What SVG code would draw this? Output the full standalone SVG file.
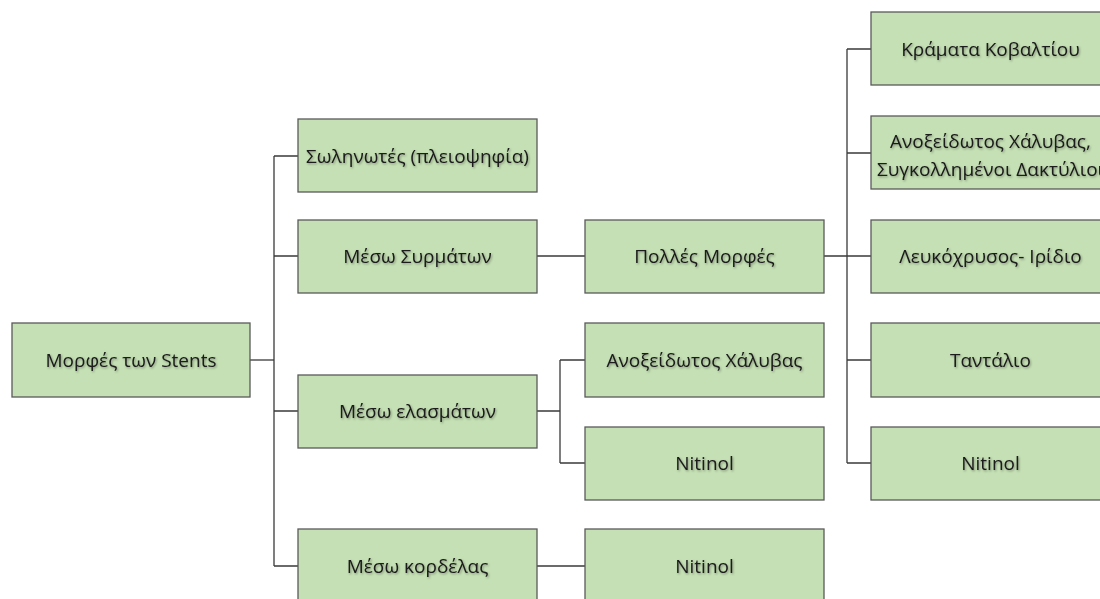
<svg xmlns="http://www.w3.org/2000/svg" width="1100" height="599" viewBox="0 0 1100 599">
  <defs>
    <filter id="tshadow" x="-10%" y="-30%" width="120%" height="160%">
      <feDropShadow dx="1" dy="1.2" stdDeviation="0.9" flood-color="#000000" flood-opacity="0.35"/>
    </filter>
    <style>
      .box { fill: #c5e0b4; stroke: #5a5a5a; stroke-width: 1.3; }
      .lbl { font-family: "Open Sans", "Noto Sans", "DejaVu Sans", sans-serif; font-size: 19px; fill: #1a1a1a; text-anchor: middle; filter: url(#tshadow); }
      .con { fill: none; stroke: #3a3a3a; stroke-width: 1.3; }
    </style>
  </defs>
  <rect width="1100" height="599" fill="#ffffff"/>

  <g id="connectors">
    <path class="con" d="M250,360 H274"/>
    <path class="con" d="M274,156 V566"/>
    <path class="con" d="M274,156 H298 M274,256 H298 M274,411 H298 M274,566 H298"/>
    <path class="con" d="M537,256 H585"/>
    <path class="con" d="M537,411 H560 M560,360 V463 M560,360 H585 M560,463 H585"/>
    <path class="con" d="M537,566 H585"/>
    <path class="con" d="M824,256 H847 M847,49 V463 M847,49 H871 M847,153 H871 M847,256 H871 M847,360 H871 M847,463 H871"/>
  </g>

  <g id="root">
    <rect class="box" x="12" y="323" width="238" height="74"/>
    <text class="lbl" x="131" y="367">Μορφές των Stents</text>
  </g>

  <g id="solinotes">
    <rect class="box" x="298" y="119" width="239" height="73"/>
    <text class="lbl" x="417.5" y="163">Σωληνωτές (πλειοψηφία)</text>
  </g>
  <g id="meso-syrmaton">
    <rect class="box" x="298" y="220" width="239" height="73"/>
    <text class="lbl" x="417.5" y="263">Μέσω Συρμάτων</text>
  </g>
  <g id="meso-elasmaton">
    <rect class="box" x="298" y="375" width="239" height="73"/>
    <text class="lbl" x="417.5" y="418">Μέσω ελασμάτων</text>
  </g>
  <g id="meso-kordelas">
    <rect class="box" x="298" y="529" width="239" height="73"/>
    <text class="lbl" x="417.5" y="573">Μέσω κορδέλας</text>
  </g>

  <g id="polles-morfes">
    <rect class="box" x="585" y="220" width="239" height="73"/>
    <text class="lbl" x="704.5" y="263">Πολλές Μορφές</text>
  </g>
  <g id="anoxeidotos-xalyvas">
    <rect class="box" x="585" y="323" width="239" height="74"/>
    <text class="lbl" x="704.5" y="367">Ανοξείδωτος Χάλυβας</text>
  </g>
  <g id="nitinol-1">
    <rect class="box" x="585" y="427" width="239" height="73"/>
    <text class="lbl" x="704.5" y="470">Nitinol</text>
  </g>
  <g id="nitinol-2">
    <rect class="box" x="585" y="529" width="239" height="73"/>
    <text class="lbl" x="704.5" y="573">Nitinol</text>
  </g>

  <g id="kramata-kovaltiou">
    <rect class="box" x="871" y="12" width="239" height="73"/>
    <text class="lbl" x="990.5" y="56">Κράματα Κοβαλτίου</text>
  </g>
  <g id="anoxeidotos-dakt">
    <rect class="box" x="871" y="116" width="239" height="73"/>
    <text class="lbl" x="990.5" y="148">Ανοξείδωτος Χάλυβας,</text>
    <text class="lbl" x="990.5" y="176">Συγκολλημένοι Δακτύλιοι</text>
  </g>
  <g id="leukoxrysos">
    <rect class="box" x="871" y="220" width="239" height="73"/>
    <text class="lbl" x="990.5" y="263">Λευκόχρυσος- Ιρίδιο</text>
  </g>
  <g id="tantalio">
    <rect class="box" x="871" y="323" width="239" height="74"/>
    <text class="lbl" x="990.5" y="367">Ταντάλιο</text>
  </g>
  <g id="nitinol-3">
    <rect class="box" x="871" y="427" width="239" height="73"/>
    <text class="lbl" x="990.5" y="470">Nitinol</text>
  </g>
</svg>
